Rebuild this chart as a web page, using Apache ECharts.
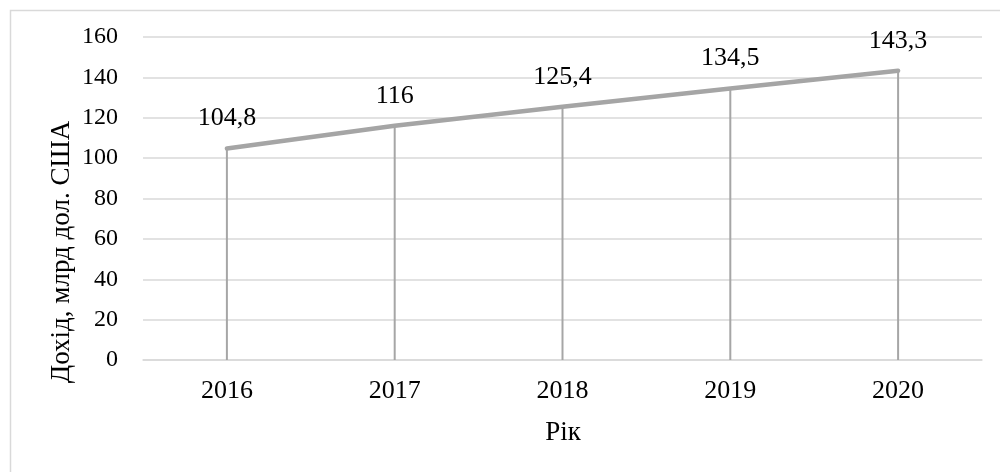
<!DOCTYPE html>
<html>
<head>
<meta charset="utf-8">
<script src="https://cdn.jsdelivr.net/npm/echarts@6/dist/echarts.min.js"></script>
<style>
html,body{margin:0;padding:0;background:#fff;}
#c{width:1000px;height:472px;}
</style>
</head>
<body>
<div id="c"></div>
<script>
const years = ['2016', '2017', '2018', '2019', '2020'];
const income = [104.8, 116, 125.4, 134.5, 143.3];
const yTitle = 'Дохід, млрд дол. США';
const xTitle = 'Рік';

const FONT = '"Liberation Serif", "Times New Roman", serif';
const chart = echarts.init(document.getElementById('c'), null, {renderer: 'canvas'});
chart.setOption({
  animation: false,
  backgroundColor: '#fff',
  textStyle: {fontFamily: FONT},
  graphic: [
    {type: 'rect', left: 8, top: 8, shape: {width: 1100, height: 600}, style: {fill: 'none', stroke: '#d9d9d9', lineWidth: 1.5}, silent: true, z: -1},
    {type: 'text', x: 62, y: 252, rotation: Math.PI / 2, style: {text: yTitle, font: '27px ' + FONT, fill: '#000', align: 'center', verticalAlign: 'middle'}},
    {type: 'text', x: 563, y: 433, style: {text: xTitle, font: '27px ' + FONT, fill: '#000', align: 'center', verticalAlign: 'middle'}}
  ],
  grid: {left: 143, right: 18, top: 37, bottom: 112},
  xAxis: {
    type: 'category',
    data: years,
    boundaryGap: true,
    axisLine: {lineStyle: {color: '#d9d9d9', width: 1.5}},
    axisTick: {show: false},
    axisLabel: {color: '#000', fontSize: 26, fontFamily: FONT, margin: 18},
    splitLine: {show: false}
  },
  yAxis: {
    type: 'value',
    min: 0, max: 160, interval: 20,
    axisLine: {show: false},
    axisTick: {show: false},
    axisLabel: {color: '#000', fontSize: 24, fontFamily: FONT, margin: 25},
    splitLine: {lineStyle: {color: '#d9d9d9', width: 1.5}}
  },
  series: [
    {
      type: 'bar',
      data: income,
      barWidth: 2,
      itemStyle: {color: '#a6a6a6'},
      silent: true,
      z: 1,
      label: {
        show: true,
        position: 'top',
        distance: 17,
        color: '#000',
        fontSize: 26,
        fontFamily: FONT,
        formatter: p => String(p.value).replace('.', ',')
      }
    },
    {
      type: 'line',
      data: income,
      symbol: 'none',
      lineStyle: {color: '#a5a5a5', width: 4.5, cap: 'round'},
      z: 2
    }
  ]
});
</script>
</body>
</html>
